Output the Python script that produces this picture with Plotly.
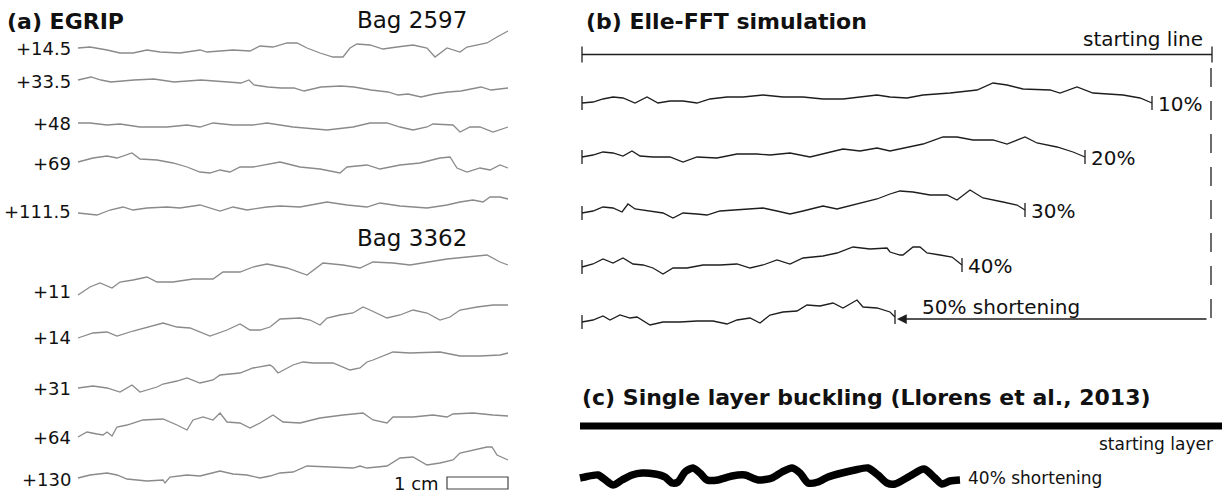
import numpy as np
import plotly.graph_objects as go

# ---------------- Panel (a): EGRIP stratigraphy profiles ----------------
A_LABELS = ["+14.5", "+33.5", "+48", "+69", "+111.5", "+11", "+14", "+31", "+64", "+130"]
A_BAGS = ["Bag 2597", "Bag 3362"]

a1_dx = [0,12,29,42,55,69,82,102,122,129,155,172,182,195,209,219,229,242,255,265,272,279,292,305,319,335,349,357,369,382,389,409,419,430]
a1_dy = [0,1,-2,-5,-5,-2,-4,-5,-2,-4,-2,-3,2,1,5,5,0,-5,-9,-9,0,4,3,-1,1,3,0,-9,0,-4,1,5,11,17]
a2_dx = [0,13,23,33,56,76,96,123,150,163,171,176,190,203,216,226,243,263,276,293,310,320,330,343,356,370,383,393,403,413,423,430]
a2_dy = [0,3,0,-2,0,1,-2,0,-2,-3,0,-5,-7,-8,-8,-11,-7,-6,-7,-10,-12,-15,-14,-17,-14,-12,-11,-9,-7,-10,-9,-8]
a3_dx = [0,12,29,42,62,89,109,122,135,155,175,189,215,249,275,292,309,322,335,349,355,375,382,392,402,415,430]
a3_dy = [0,0,-2,-1,-4,-4,-2,-4,0,-2,-2,0,-4,-7,-4,0,0,-4,-7,-4,-1,-2,-9,-4,-4,-9,-4]
a4_dx = [0,15,29,39,54,62,79,95,109,122,132,142,152,162,175,185,202,222,242,262,269,289,302,322,342,362,372,379,389,402,412,422,430]
a4_dy = [0,4,6,4,9,3,2,-1,-5,-10,-11,-8,-10,-5,-5,-3,0,-5,-7,-11,-5,-3,-7,-3,-1,4,5,-6,-10,-6,-8,-3,-6]
a5_dx = [0,19,32,45,55,69,89,102,122,142,155,169,189,202,222,249,269,289,302,322,349,369,382,395,405,412,422,430]
a5_dy = [0,-2,3,6,3,5,6,5,8,2,6,3,6,7,6,11,8,6,10,7,5,8,11,13,11,16,16,14]
a6_dx = [0,12,22,34,42,55,69,79,95,115,135,145,162,175,189,195,209,229,239,245,265,282,295,315,332,349,369,389,409,422,430]
a6_dy = [0,8,12,7,13,15,18,13,13,16,16,23,23,28,31,30,27,20,27,32,30,27,33,32,30,33,36,38,40,33,30]
a7_dx = [0,15,29,39,55,69,85,99,112,132,149,162,172,182,192,202,222,232,242,249,262,275,285,292,309,322,335,349,362,372,382,399,415,430]
a7_dy = [0,5,6,2,7,11,15,11,10,2,8,14,8,8,11,19,20,18,13,20,23,25,31,28,20,23,28,25,18,21,28,31,33,33]
a8_dx = [0,15,29,42,54,62,79,85,99,109,122,135,142,162,175,189,192,195,200,215,225,235,255,272,282,289,295,315,332,362,382,402,422,430]
a8_dy = [0,2,0,-4,3,-4,1,4,7,10,5,8,13,15,20,22,23,21,15,23,26,25,25,18,20,26,28,36,35,36,32,32,33,35]
a9_dx = [0,9,19,25,29,34,39,49,65,85,99,109,115,125,135,142,149,162,172,182,195,205,222,242,265,285,295,309,315,335,355,369,375,395,415,430]
a9_dy = [0,5,3,2,5,1,10,12,17,18,12,7,17,20,17,24,15,14,9,14,22,15,14,19,22,24,17,14,20,20,22,20,23,24,22,21]
a10_dx = [0,12,29,39,49,69,85,87,92,109,122,142,155,169,182,192,202,215,229,249,262,275,282,289,309,322,335,349,362,375,382,395,409,414,419,430]
a10_dy = [0,3,5,3,-1,-3,-2,-5,1,3,2,7,4,3,0,2,5,6,12,11,11,10,12,10,12,20,21,13,15,18,25,28,31,31,23,18]

# ---------------- Panel (b): Elle-FFT simulation profiles ----------------
B_LABELS = ["10%", "20%", "30%", "40%", "50% shortening"]
b10_dx = [0,11,21,31,41,53,65,76,88,101,115,128,145,161,181,201,221,241,261,278,295,308,325,341,368,395,411,425,441,468,478,495,511,541,558,570]
b10_dy = [0,1,4,6,5,0,6,0,2,2,0,4,6,6,8,6,6,4,4,6,8,6,5,8,10,13,20,18,14,13,10,16,10,8,5,0]
b20_dx = [0,11,21,31,41,50,58,71,88,101,115,135,155,175,188,208,228,241,261,278,295,308,325,341,361,375,391,411,425,435,443,455,475,491,503]
b20_dy = [0,2,5,4,1,6,1,0,0,-5,0,-1,3,3,2,4,0,3,8,6,9,6,10,13,20,20,17,17,13,17,20,14,10,5,0]
b30_dx = [0,11,21,31,40,46,53,68,81,91,101,115,125,138,161,181,195,208,221,241,255,275,295,308,318,331,348,365,375,388,401,421,435,443]
b30_dy = [0,2,6,5,1,9,4,2,0,-5,0,-1,-2,2,4,5,2,-1,2,7,4,9,14,19,22,21,18,18,13,23,15,11,8,3]
b40_dx = [0,11,21,31,41,51,61,71,81,91,105,121,138,155,168,181,195,208,221,241,255,271,288,305,308,318,321,331,338,345,358,370,380]
b40_dy = [0,3,8,4,9,3,2,-1,-7,-1,-1,2,2,3,-1,2,7,3,9,11,14,20,18,19,15,12,12,20,20,14,12,10,2]
b50_dx = [0,11,21,28,38,48,55,68,81,98,115,131,145,155,168,178,188,201,215,225,238,251,261,275,281,295,308,313]
b50_dy = [0,2,6,2,7,4,5,-3,0,0,1,1,-2,2,4,-1,7,10,11,17,16,19,14,22,15,14,10,5]
b_start_dx = [0, 630]
b_start_dy = [0, 0]

# ---------------- Panel (c): single layer buckling ----------------
c_start_dx = [0, 642]
c_start_dy = [0, 0]
c_wave_dx = [0,5,18,28,33,42,52,62,75,85,92,98,105,113,120,127,138,152,165,178,192,202,212,220,228,238,248,262,275,288,298,307,315,330,344,355,362,370,380]
c_wave_dy = [2,3,5,-2,-5,0,5,7,6,3,-3,-2,8,12,7,0,0,4,5,0,2,8,12,7,-3,-2,3,7,10,12,5,-3,-4,4,11,2,-4,-1,0]

# ---------------- layout (positions / styles) ----------------
A_PROFILES = [(a1_dx, a1_dy), (a2_dx, a2_dy), (a3_dx, a3_dy), (a4_dx, a4_dy), (a5_dx, a5_dy),
              (a6_dx, a6_dy), (a7_dx, a7_dy), (a8_dx, a8_dy), (a9_dx, a9_dy), (a10_dx, a10_dy)]
A_BASE = [48, 80, 123, 162, 213, 295, 338, 388, 437, 478]
A_LABEL_Y = [48, 81, 123, 163, 211, 291, 337, 388, 437, 479]
A_X0 = 78
B_PROFILES = [(b10_dx, b10_dy), (b20_dx, b20_dy), (b30_dx, b30_dy), (b40_dx, b40_dy), (b50_dx, b50_dy)]
B_BASE = [103, 157, 213, 267, 322]
B_X0 = 582
B_START_Y = 54.5
C_X0 = 580
C_START_Y = 426
C_WAVE_Y = 480

FONT = "DejaVu Sans"
GREY = "#8a8a8a"
DARK = "#1e1e1e"
TICK = 7

fig = go.Figure()


def add_line(x0, base, dx, dy, color, width, shape="linear", dash=None, smoothing=None):
    dx = np.asarray(dx, float)
    dy = np.asarray(dy, float)
    assert len(dx) == len(dy)
    line = dict(color=color, width=width, shape=shape, dash=dash)
    if smoothing is not None:
        line["smoothing"] = smoothing
    fig.add_trace(go.Scatter(x=x0 + dx, y=base - dy, mode="lines", line=line,
                             hoverinfo="skip", showlegend=False))
    return x0 + dx[-1], base - dy[-1]


def add_text(x, y, s, size, anchor="left", bold=False, color="#111"):
    fig.add_annotation(x=x, y=y, xref="x", yref="y", text=s, showarrow=False,
                       xanchor=anchor, yanchor="middle",
                       font=dict(family=FONT, size=size, color=color,
                                 weight="bold" if bold else "normal"))


# panel (a)
for (dx, dy), base, lab, ly in zip(A_PROFILES, A_BASE, A_LABELS, A_LABEL_Y):
    add_line(A_X0, base, dx, dy, GREY, 1.3)
    add_text(73, ly, lab, 18, anchor="right")
add_text(5, 21, "(a) EGRIP", 22, bold=True)
add_text(355, 20, A_BAGS[0], 23)
add_text(355, 238, A_BAGS[1], 23)
add_text(441, 483, "1 cm", 18, anchor="right")
fig.add_shape(type="rect", x0=447, x1=508, y0=477, y1=489, xref="x", yref="y",
              line=dict(color="#444", width=1.2), fillcolor="white")

# panel (b)
sx, sy = add_line(B_X0, B_START_Y, b_start_dx, b_start_dy, DARK, 1.3)
for xx in (B_X0, sx):
    fig.add_trace(go.Scatter(x=[xx, xx], y=[B_START_Y - 8, B_START_Y + 8], mode="lines",
                             line=dict(color=DARK, width=1.3), hoverinfo="skip", showlegend=False))
add_text(1205, 39, "starting line", 20, anchor="right")
add_text(584, 21, "(b) Elle-FFT simulation", 22, bold=True)
for i, ((dx, dy), base) in enumerate(zip(B_PROFILES, B_BASE)):
    ex, ey = add_line(B_X0, base, dx, dy, DARK, 1.3)
    for xx, yy in ((B_X0, base), (ex, ey)):
        fig.add_trace(go.Scatter(x=[xx, xx], y=[yy - TICK, yy + TICK], mode="lines",
                                 line=dict(color=DARK, width=1.3), hoverinfo="skip", showlegend=False))
    if i < 4:
        add_text(ex + 4, ey + 1, B_LABELS[i], 20)
    else:
        add_text(ex + 25, 307, B_LABELS[i], 20)
        fig.add_annotation(x=ex + 2, y=319, ax=sx - 4, ay=319, xref="x", yref="y",
                           axref="x", ayref="y", text="", showarrow=True,
                           arrowhead=2, arrowsize=1.5, arrowwidth=1.3, arrowcolor=DARK,
                           standoff=0, startstandoff=0)
# dashed reference line at the original length
fig.add_trace(go.Scatter(x=[sx - 1, sx - 1], y=[68, 332], mode="lines",
                         line=dict(color=DARK, width=1.3, dash="19px,14px"),
                         hoverinfo="skip", showlegend=False))

# panel (c)
add_text(580, 397, "(c) Single layer buckling (Llorens et al., 2013)", 22, bold=True)
add_line(C_X0, C_START_Y, c_start_dx, c_start_dy, "#000", 7)
add_text(1215, 444, "starting layer", 17, anchor="right")
wx, wy = add_line(C_X0, C_WAVE_Y, c_wave_dx, c_wave_dy, "#000", 7.5, shape="spline", smoothing=0.7)
add_text(wx + 6, 478, "40% shortening", 17)

fig.update_layout(width=1222, height=493, margin=dict(l=0, r=0, t=0, b=0),
                  paper_bgcolor="white", plot_bgcolor="white", showlegend=False,
                  xaxis=dict(range=[0, 1222], visible=False, fixedrange=True),
                  yaxis=dict(range=[493, 0], visible=False, fixedrange=True))

fig.write_html("out.html")
